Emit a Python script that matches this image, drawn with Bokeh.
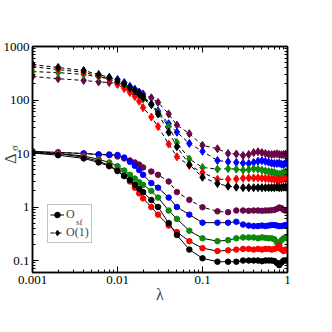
import math
from bokeh.plotting import figure
from bokeh.models import LogAxis, Range1d, Legend, LegendItem, Label, CustomJSTickFormatter, LogTicker
from bokeh.embed import file_html
from bokeh.resources import INLINE

lam = [0.001, 0.002, 0.004, 0.006, 0.008, 0.01, 0.012, 0.014, 0.016, 0.018,
       0.02, 0.025, 0.03, 0.04, 0.05, 0.07, 0.1, 0.15, 0.2, 0.25,
       0.3, 0.35, 0.4, 0.45, 0.5, 0.55, 0.6, 0.65, 0.7, 0.75,
       0.8, 0.85, 0.9, 0.95, 1.0]

# O(1) gaps (dashed, upper group)
o1_black = [460, 405, 355, 300, 265, 225, 200, 170, 150, 130, 112, 82, 55, 25, 13.4,
            6.2, 3.6, 2.75, 2.45, 2.35, 2.3, 2.3, 2.3, 2.3, 2.3, 2.3, 2.3, 2.3, 2.3, 2.35,
            2.3, 2.3, 2.35, 2.35, 2.35]
o1_red = [420, 370, 330, 280, 245, 195, 164, 138, 116, 95, 72, 48, 32, 15, 8.7,
          6.0, 4.4, 3.3, 3.3, 3.35, 3.45, 3.5, 3.5, 3.5, 3.45, 3.4, 3.4, 3.35, 3.3, 3.2,
          3.15, 3.25, 3.35, 3.4, 3.35]
o1_green = [340, 325, 300, 270, 250, 205, 185, 160, 140, 122, 104, 82, 58, 32, 16,
            7.9, 5.5, 5.1, 5.2, 5.1, 4.9, 5.0, 5.2, 5.1, 4.9, 4.7, 4.6, 4.5, 4.4, 4.2,
            4.1, 4.2, 4.4, 4.5, 4.4]
lam_blue_o1 = lam[4:]
o1_blue = [255, 242, 212, 180, 157, 140, 118, 84, 62, 36, 25,
           15.4, 11, 7.4, 7.0, 6.8, 6.6, 6.5, 6.8, 7.2, 7.3, 7.1, 6.9, 6.6, 6.5, 6.5,
           6.6, 6.3, 6.2, 6.6, 7.0]
o1_purple = [275, 250, 232, 218, 212, 205, 190, 172, 158, 140, 130, 110, 90, 55, 34,
             23.5, 14.2, 12.3, 10.0, 9.8, 9.2, 9.6, 10.4, 10.8, 10.4, 10.0, 9.7, 9.6, 9.7, 9.9,
             9.6, 9.5, 9.6, 9.8, 9.6]

# O_sf gaps (solid, lower group)
sf_black = [10.2, 9.3, 8.1, 6.8, 5.8, 4.7, 3.8, 3.2, 2.6, 2.2, 1.9, 1.35, 1.0, 0.5, 0.30,
            0.16, 0.11, 0.095, 0.095, 0.095, 0.10, 0.10, 0.10, 0.10, 0.097, 0.10, 0.10, 0.10, 0.098, 0.09,
            0.082, 0.092, 0.10, 0.10, 0.10]
sf_red = [10.4, 10.0, 8.5, 7.2, 6.0, 4.8, 3.8, 3.0, 2.3, 1.8, 1.45, 1.0, 0.72, 0.45, 0.34,
          0.23, 0.17, 0.15, 0.155, 0.16, 0.165, 0.165, 0.16, 0.165, 0.16, 0.165, 0.165, 0.16, 0.165, 0.17,
          0.19, 0.16, 0.15, 0.16, 0.155]
sf_green = [10.3, 10.0, 9.0, 7.8, 6.8, 5.8, 4.8, 4.0, 3.4, 2.9, 2.6, 2.0, 1.5, 0.86, 0.6,
            0.36, 0.26, 0.23, 0.24, 0.26, 0.27, 0.27, 0.27, 0.26, 0.27, 0.265, 0.26, 0.26, 0.25, 0.22,
            0.21, 0.24, 0.26, 0.27, 0.26]
sf_blue = [11.0, 10.5, 10.0, 9.6, 9.6, 9.4, 8.4, 7.0, 5.9, 4.9, 4.0, 2.8, 2.3, 1.5, 1.0,
           0.72, 0.51, 0.51, 0.51, 0.53, 0.47, 0.45, 0.44, 0.44, 0.45, 0.44, 0.45, 0.46, 0.46, 0.45,
           0.44, 0.44, 0.45, 0.46, 0.45]
sf_purple = [10.5, 10.4, 10.0, 9.6, 9.3, 8.8, 8.1, 7.4, 6.8, 6.2, 5.5, 4.6, 4.0, 3.0, 1.9,
             1.36, 0.99, 0.83, 0.80, 0.86, 0.86, 0.85, 0.86, 0.86, 0.85, 0.86, 0.86, 0.87, 0.88, 0.92,
             0.98, 0.95, 0.88, 0.86, 0.87]

legend_labels = ["O", "O(1)"]

PURPLE = "#670748"
GREEN = "#0a8a0a"
RED = "#ff0000"
BLUE = "#0000ff"
BLACK = "#000000"
FONT = "Liberation Serif"

p = figure(width=324, height=322, x_axis_type="log", y_axis_type="log",
           x_range=Range1d(0.001, 1), y_range=Range1d(0.0597, 1000),
           output_backend="svg", toolbar_location=None,
           min_border_left=29, min_border_right=37, min_border_top=46, min_border_bottom=50)
p.grid.visible = False
p.outline_line_color = "black"
p.outline_line_width = 1.5
p.background_fill_color = "white"
p.border_fill_color = "white"

fmt = CustomJSTickFormatter(code="return tick >= 1 ? tick.toFixed(0) : String(parseFloat(tick.toPrecision(1)));")
blank = CustomJSTickFormatter(code="return '';")

for ax in (p.xaxis[0], p.yaxis[0]):
    ax.formatter = fmt
    ax.ticker = LogTicker(desired_num_ticks=5, num_minor_ticks=10)
    ax.major_label_text_font = FONT
    ax.major_label_text_font_size = "13px"
    ax.major_label_text_color = "black"
    ax.major_tick_in = 6
    ax.major_tick_out = 0
    ax.minor_tick_in = 3
    ax.minor_tick_out = 0
    ax.axis_line_width = 1.5
    ax.major_tick_line_width = 1
p.yaxis[0].major_label_standoff = 3
p.xaxis[0].major_label_standoff = 3
p.xaxis[0].axis_label = "λ"
p.xaxis[0].axis_label_text_font = FONT
p.xaxis[0].axis_label_text_font_size = "16px"
p.xaxis[0].axis_label_text_font_style = "normal"
p.xaxis[0].axis_label_standoff = -1

for loc in ("above", "right"):
    a = LogAxis(ticker=LogTicker(desired_num_ticks=5, num_minor_ticks=10), formatter=blank,
                major_tick_in=6, major_tick_out=0, minor_tick_in=3, minor_tick_out=0,
                axis_line_width=1.5, major_label_standoff=0)
    p.add_layout(a, loc)

# lower group: O_sf
sf_series = [(sf_purple, PURPLE, "4 3"), (sf_blue, BLUE, "solid"), (sf_green, GREEN, "solid"),
             (sf_red, RED, "solid"), (sf_black, BLACK, "solid")]
sf_rends = None
for ys, col, dash in sf_series:
    ln = p.line(lam, ys, line_color="black", line_width=1, line_dash=dash)
    sc = p.scatter(lam, ys, marker="circle", size=5.5, fill_color=col, line_color=col)
    sf_rends = [ln, sc]

# upper group: O(1)
o1_series = [(lam, o1_purple, PURPLE), (lam_blue_o1, o1_blue, BLUE), (lam, o1_green, GREEN),
             (lam, o1_red, RED), (lam, o1_black, BLACK)]
o1_rends = None
for xs, ys, col in o1_series:
    ln = p.line(xs, ys, line_color="black", line_width=1, line_dash="4 3")
    sc = p.scatter(xs, ys, marker="diamond", size=8, fill_color=col, line_color=col)
    o1_rends = [ln, sc]

legend = Legend(items=[LegendItem(label=legend_labels[0], renderers=sf_rends),
                       LegendItem(label=legend_labels[1], renderers=o1_rends)],
                location=(15, 29), label_text_font=FONT, label_text_font_size="12px",
                glyph_width=14, glyph_height=15, label_standoff=2, padding=2, spacing=3,
                margin=0, border_line_color="#888888", border_line_width=1,
                background_fill_alpha=0, label_height=15)
p.add_layout(legend)

# subscript of the first legend label, in data units
p.add_layout(Label(x=0.00324, y=0.536, text="sf", text_font=FONT, text_font_size="9px",
                   text_align="left", text_baseline="middle"))
# y-axis title: data-unit labels kept in side panels with spare room (side panels are not clipped)
p.add_layout(Label(x=0.000544, y=8.07, text="Δ", angle=math.pi / 2,
                   text_font=FONT, text_font_size="16px", text_align="center",
                   text_baseline="middle"), "above")
p.add_layout(Label(x=0.000608, y=12.6, text="σ", angle=math.pi / 2,
                   text_font=FONT, text_font_size="10px", text_align="center",
                   text_baseline="middle"), "right")

open("out.html", "w").write(file_html(p, INLINE))
